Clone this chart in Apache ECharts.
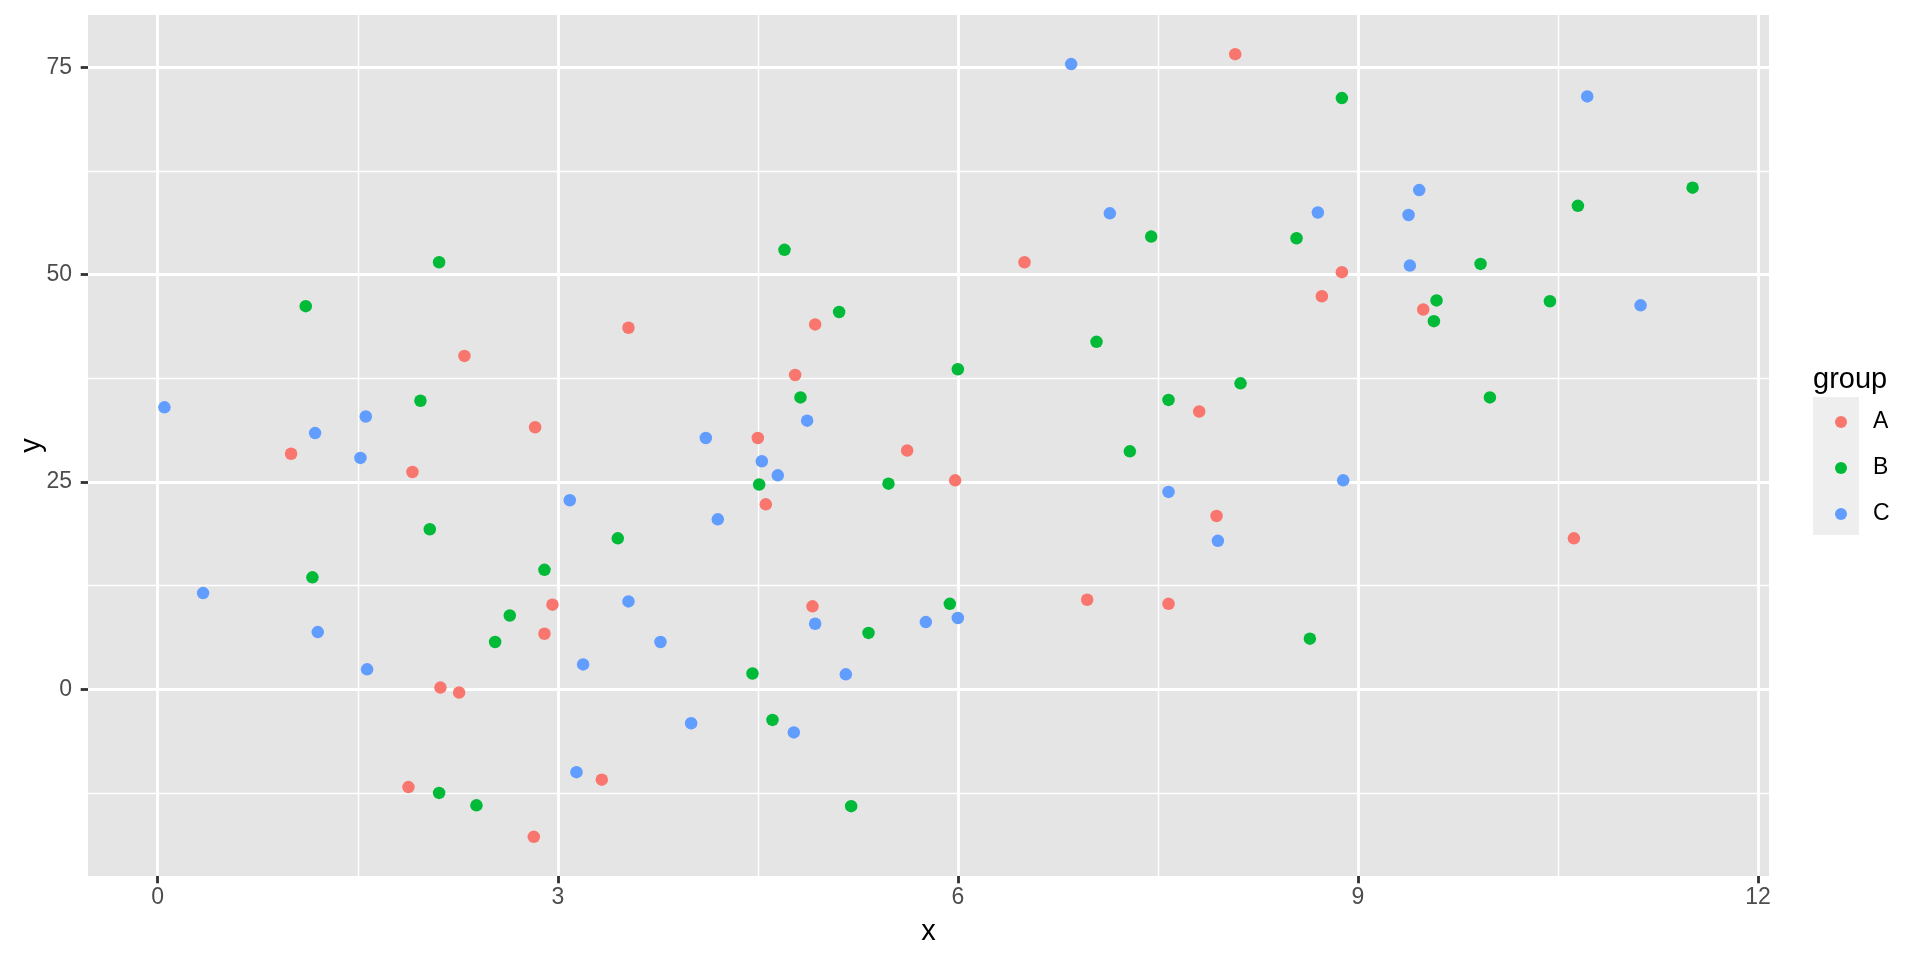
<!DOCTYPE html>
<html><head><meta charset="utf-8">
<script src="https://cdn.jsdelivr.net/npm/echarts@6/dist/echarts.min.js"></script>
<style>html,body{margin:0;padding:0;background:#fff}#c{width:1920px;height:960px}</style>
</head><body><div id="c"></div>
<script>
const groupNames = ['A', 'B', 'C'];
const groupColors = ['#F8766D', '#00BA38', '#619CFF'];

const aX = [2.30,3.53,2.83,6.50,4.93,4.78,4.50,7.81,8.08,8.88,8.73,9.49,1.00,1.91,2.96,2.90,2.12,2.26,3.33,1.88,2.82,5.62,5.98,4.56,7.94,6.97,7.58,4.91,10.62];
const aY = [40.2,43.6,31.6,51.5,44.0,37.9,30.3,33.5,76.6,50.3,47.4,45.8,28.4,26.2,10.2,6.7,0.2,-0.4,-10.9,-11.8,-17.8,28.8,25.2,22.3,20.9,10.8,10.3,10.0,18.2];

const bX = [2.11,1.11,1.97,4.70,5.11,7.45,7.04,6.00,4.82,7.58,8.88,11.51,10.65,8.54,9.92,9.59,9.57,10.44,8.12,9.99,2.04,3.45,2.90,1.16,2.64,2.53,2.11,2.39,7.29,4.51,5.48,5.94,5.33,4.46,4.61,5.20,8.64];
const bY = [51.5,46.2,34.8,53.0,45.5,54.6,41.9,38.6,35.2,34.9,71.3,60.5,58.3,54.4,51.3,46.9,44.4,46.8,36.9,35.2,19.3,18.2,14.4,13.5,8.9,5.7,-12.5,-14.0,28.7,24.7,24.8,10.3,6.8,1.9,-3.7,-14.1,6.1];

const cX = [0.05,1.18,1.56,6.85,7.14,4.87,4.11,10.72,9.46,8.70,9.38,9.39,11.12,1.52,3.09,0.34,3.53,1.20,3.19,1.57,3.14,4.53,4.65,7.58,4.20,7.95,6.00,5.76,4.93,3.77,5.16,4.00,4.77,8.89];
const cY = [34.0,30.9,32.9,75.4,57.4,32.4,30.3,71.5,60.2,57.5,57.2,51.1,46.3,27.9,22.8,11.6,10.6,6.9,3.0,2.4,-10.0,27.5,25.8,23.8,20.5,17.9,8.6,8.1,7.9,5.7,1.8,-4.1,-5.2,25.2];

const xTicks = [0, 3, 6, 9, 12];
const xMinor = [1.5, 4.5, 7.5, 10.5];
const yTicks = [0, 25, 50, 75];
const yMinor = [-12.5, 12.5, 37.5, 62.5];

const FONT = 'Liberation Sans, Arial, Helvetica, sans-serif';
const allX = aX.concat(bX, cX), allY = aY.concat(bY, cY);
function expand(arr) {
  const lo = Math.min(...arr), hi = Math.max(...arr), d = (hi - lo) * 0.05;
  return [lo - d, hi + d];
}
const xr = expand(allX), yr = expand(allY);
const zip = (xs, ys) => xs.map((x, i) => [x, ys[i]]);
const seriesData = [zip(aX, aY), zip(bX, bY), zip(cX, cY)];

const chart = echarts.init(document.getElementById('c'), null, {renderer: 'canvas'});
const majorLine = {show: true, lineStyle: {color: '#FFFFFF', width: 2.85}};
const minorLine = {show: true, lineStyle: {color: '#FFFFFF', width: 1.42}};
chart.setOption({
  animation: false,
  backgroundColor: '#FFFFFF',
  grid: {left: 88, right: 151, top: 15, bottom: 84, show: true, backgroundColor: '#E5E5E5', borderWidth: 0, containLabel: false},
  xAxis: [
    {type: 'value', min: xr[0], max: xr[1],
     axisLine: {show: false, onZero: false},
     axisTick: {show: true, length: 7.3, lineStyle: {color: '#333333', width: 2.85}, customValues: xTicks},
     axisLabel: {customValues: xTicks, color: '#4D4D4D', fontSize: 23, fontFamily: FONT, margin: 10},
     splitLine: majorLine,
     name: 'x', nameLocation: 'middle', nameGap: 41,
     nameTextStyle: {color: '#000000', fontSize: 29, fontFamily: FONT}, z: 3},
    {type: 'value', min: xr[0], max: xr[1], position: 'bottom',
     axisLine: {show: false, onZero: false}, axisLabel: {show: false},
     axisTick: {show: false, customValues: xMinor},
     splitLine: minorLine, z: 2}
  ],
  yAxis: [
    {type: 'value', min: yr[0], max: yr[1],
     axisLine: {show: false, onZero: false},
     axisTick: {show: true, length: 7.3, lineStyle: {color: '#333333', width: 2.85}, customValues: yTicks},
     axisLabel: {customValues: yTicks, color: '#4D4D4D', fontSize: 23, fontFamily: FONT, margin: 16},
     splitLine: majorLine,
     name: 'y', nameLocation: 'middle', nameGap: 42, nameRotate: 90, nameMoveOverlap: false,
     nameTextStyle: {color: '#000000', fontSize: 29, fontFamily: FONT}, z: 3},
    {type: 'value', min: yr[0], max: yr[1], position: 'left',
     axisLine: {show: false, onZero: false}, axisLabel: {show: false},
     axisTick: {show: false, customValues: yMinor},
     splitLine: minorLine, z: 2}
  ],
  legend: {
    orient: 'vertical', left: 1830, top: 405.5, icon: 'circle',
    itemWidth: 12, itemHeight: 12, itemGap: 23,
    data: groupNames,
    textStyle: {color: '#000000', fontSize: 23, fontFamily: FONT, lineHeight: 23, padding: [0, 0, 0, 21]}
  },
  graphic: [
    {type: 'rect', shape: {x: 1813, y: 397, width: 46, height: 138}, style: {fill: '#EEEEEE'}, z: 0, silent: true},
    {type: 'text', style: {x: 1813, y: 380, text: 'group', fill: '#000000', font: '29px ' + FONT, verticalAlign: 'middle', align: 'left'}, z: 0, silent: true}
  ],
  series: groupNames.map((g, i) => ({
    name: g, type: 'scatter', xAxisIndex: 0, yAxisIndex: 0,
    symbol: 'circle', symbolSize: 12.5,
    itemStyle: {color: groupColors[i], opacity: 1},
    data: seriesData[i], z: 5
  }))
});
</script></body></html>
